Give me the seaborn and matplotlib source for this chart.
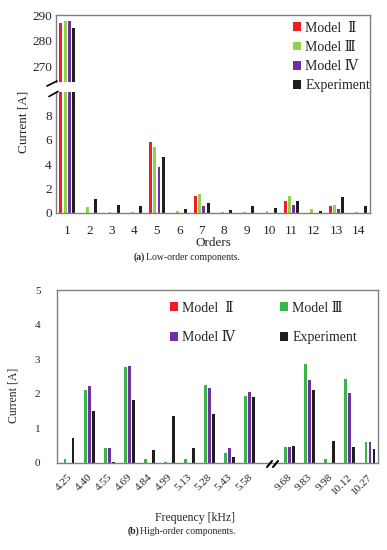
import matplotlib
matplotlib.use("Agg")
import matplotlib.pyplot as plt
from matplotlib.lines import Line2D
import pandas as pd
import seaborn as sns

# --- Data ---
SERIES = ["Model  \u2161", "Model \u2162", "Model \u2163", "Experiment"]

orders = [str(i) for i in range(1, 15)]
low_m2 = [287.0, 0, 0, 0, 5.8, 0, 1.35, 0, 0, 0, 1.0, 0, 0.58, 0]
low_m3 = [287.5, 0.48, 0.08, 0.08, 5.4, 0.2, 1.55, 0.05, 0.05, 0.17, 1.35, 0.3, 0.65, 0.08]
low_m4 = [287.5, 0, 0, 0, 3.73, 0, 0.55, 0, 0, 0, 0.68, 0, 0.33, 0]
low_exp = [285.0, 1.12, 0.63, 0.55, 4.57, 0.33, 0.85, 0.25, 0.55, 0.38, 1.0, 0.15, 1.3, 0.55]

freqs = ["4.25", "4.40", "4.55", "4.69", "4.84", "4.99", "5.13", "5.28", "5.43", "5.58",
         "9.68", "9.83", "9.98", "10.12", "10.27"]
hi_m2 = [0, 0, 0, 0, 0, 0, 0, 0, 0, 0, 0, 0, 0, 0, 0]
hi_m3 = [0.12, 2.1, 0.43, 2.77, 0.12, 0.03, 0.12, 2.25, 0.3, 1.94, 0.45, 2.87, 0.13, 2.43, 0.6]
hi_m4 = [0, 2.22, 0.42, 2.8, 0, 0, 0, 2.18, 0.43, 2.04, 0.45, 2.4, 0, 2.01, 0.6]
hi_exp = [0.72, 1.5, 0.02, 1.81, 0.38, 1.37, 0.44, 1.42, 0.16, 1.92, 0.5, 2.1, 0.63, 0.45, 0.4]

low_colors = ["#ee1c25", "#92d050", "#7030a0", "#1e1e1e"]
hi_colors = ["#ee1c25", "#3cb44b", "#7030a0", "#1e1e1e"]
SPINE = "#808080"


def long_form(cats, cols):
    rows = []
    for name, vals in zip(SERIES, cols):
        for c, v in zip(cats, vals):
            rows.append({"cat": c, "series": name, "value": v})
    return pd.DataFrame(rows)


low_df = long_form(orders, [low_m2, low_m3, low_m4, low_exp])
hi_df = long_form(freqs, [hi_m2, hi_m3, hi_m4, hi_exp])

sns.set_style("white")
plt.rcParams["font.family"] = ["Liberation Serif", "DejaVu Serif"]

W, H = 387, 550
fig = plt.figure(figsize=(W / 100, H / 100), dpi=100)


def fx(px):
    return px / W


def fy(py):
    return 1 - py / H


def rect(x0, y0, x1, y1):
    return [fx(x0), fy(y1), fx(x1) - fx(x0), fy(y0) - fy(y1)]


# --- (a) low-order, broken y axis ---
ax_up = fig.add_axes(rect(56, 15, 370, 82))
ax_lo = fig.add_axes(rect(56, 92, 370, 213))

for ax in (ax_up, ax_lo):
    sns.barplot(data=low_df, x="cat", y="value", hue="series", order=orders,
                hue_order=SERIES, palette=low_colors, width=0.74, gap=0.28,
                saturation=1, linewidth=0, legend=(ax is ax_up), ax=ax)
    ax.set_xlim(-0.5, 13.5)
    ax.set_xlabel("")
    ax.set_ylabel("")
    ax.tick_params(length=0, labelsize=9.5, pad=3)
    for s in ax.spines.values():
        s.set_color(SPINE)
        s.set_linewidth(1)

ax_up.set_ylim(264, 290)
ax_up.set_yticks([270, 280, 290])
ax_up.set_xticks([])
ax_up.spines["bottom"].set_visible(False)

ax_lo.set_ylim(0, 9.9)
ax_lo.set_yticks([0, 2, 4, 6, 8])
ax_lo.spines["top"].set_visible(False)
ax_lo.tick_params(axis="x", pad=9)
ax_lo.set_xlabel("Orders", fontsize=9.5, labelpad=0)

h, l = ax_up.get_legend_handles_labels()
ax_up.get_legend().remove()
fig.legend(h, l, loc="upper left", bbox_to_anchor=(fx(287), fy(16)),
           frameon=False, fontsize=10, handlelength=0.6, handleheight=0.6,
           handletextpad=0.3, labelspacing=0.45, borderaxespad=0)

# right spine across the gap and left break marks
fig.add_artist(Line2D([fx(370), fx(370)], [fy(82), fy(92)], color=SPINE, lw=1))
fig.add_artist(Line2D([fx(47), fx(57)], [fy(86), fy(81)], color="black", lw=1.2))
fig.add_artist(Line2D([fx(49), fx(58)], [fy(96.5), fy(91.5)], color="black", lw=1.2))

fig.text(fx(23), fy(122), "Current [A]", rotation=90, ha="center", va="center", fontsize=9.5)
fig.text(fx(145), fy(257), "(a)", ha="right", va="center", fontsize=7, weight="bold")
fig.text(fx(146), fy(257), "Low-order components.", ha="left", va="center", fontsize=7)

# --- (b) high-order ---
ax_b = fig.add_axes(rect(57, 290, 378, 463))
hi_order = freqs[:10] + [""] + freqs[10:]
sns.barplot(data=hi_df, x="cat", y="value", hue="series", order=hi_order,
            hue_order=SERIES, palette=hi_colors, width=0.8, gap=0.28,
            saturation=1, linewidth=0, ax=ax_b)
ax_b.set_xlim(-0.5, 15.5)
ax_b.set_ylim(0, 5)
ax_b.set_yticks([0, 1, 2, 3, 4, 5])
ax_b.set_xlabel("")
ax_b.set_ylabel("")
ax_b.tick_params(length=0, labelsize=8)
ax_b.tick_params(axis="y", pad=12)
ax_b.tick_params(axis="x", pad=7)
for t in ax_b.get_xticklabels():
    t.set_rotation(45)
    t.set_ha("right")
    t.set_rotation_mode("anchor")
for s in ax_b.spines.values():
    s.set_color(SPINE)
    s.set_linewidth(1)

h, l = ax_b.get_legend_handles_labels()
ax_b.get_legend().remove()
# column-major fill: row 1 = Model II, Model III; row 2 = Model IV, Experiment
idx = [0, 2, 1, 3]
fig.legend([h[i] for i in idx], [l[i] for i in idx], loc="upper left",
           bbox_to_anchor=(fx(164), fy(296)), ncol=2,
           frameon=False, fontsize=10, handlelength=0.6, handleheight=0.6,
           handletextpad=0.3, labelspacing=1.2, columnspacing=3.2, borderaxespad=0)

fig.add_artist(Line2D([fx(267), fx(272)], [fy(467), fy(461)], color="black", lw=1.5))
fig.add_artist(Line2D([fx(273), fx(278)], [fy(467), fy(461)], color="black", lw=1.5))

fig.text(fx(14), fy(395), "Current [A]", rotation=90, ha="center", va="center", fontsize=8.5)
fig.text(fx(195), fy(518), "Frequency [kHz]", ha="center", va="center", fontsize=8.5)
fig.text(fx(139), fy(531), "(b)", ha="right", va="center", fontsize=7, weight="bold")
fig.text(fx(140), fy(531), "High-order components.", ha="left", va="center", fontsize=7)

fig.savefig("out.png", dpi=100)
